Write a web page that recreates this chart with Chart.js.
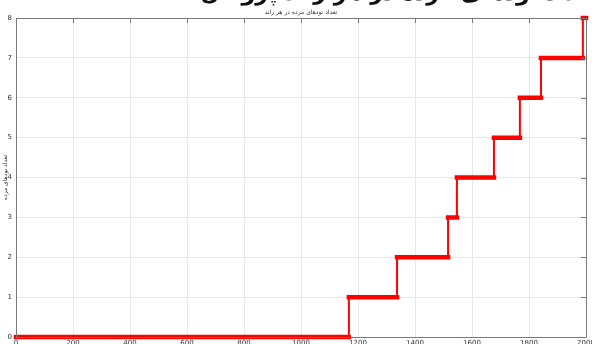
<!DOCTYPE html>
<html>
<head>
<meta charset="utf-8">
<script src="https://cdn.jsdelivr.net/npm/chart.js@4/dist/chart.umd.min.js"></script>
<style>
    html, body { margin: 0; padding: 0; background: #fff; }
    canvas { display: block; }
</style>
</head>
<body>
<canvas id="deadNodes" width="592" height="344"></canvas>
<script>
(function () {
    'use strict';

    // ── Data ─────────────────────────────────────────────────────
    const deathRounds = [1168, 1337, 1516, 1547, 1677, 1768, 1842, 1989];
    const deadCounts  = [1, 2, 3, 4, 5, 6, 7, 8];
    const lastRound   = 2000;
    const xTicks      = [0, 200, 400, 600, 800, 1000, 1200, 1400, 1600, 1800, 2000];
    const yTicks      = [0, 1, 2, 3, 4, 5, 6, 7, 8];

    const TITLE   = 'تعداد نودهای مرده در هر راند';
    const Y_LABEL = 'تعداد نودهای مرده';
    const HEADING = 'تعداد نودهای مرده در هر راند پروتکل';

    const FONT = "'DejaVu Sans', sans-serif";
    const RED  = '#ff0000';
    const AXIS = '#7a7a7a';
    const GRID = '#e8e8e8';

    // thin stepped trace: (round, count) with the jump at each death round
    const stepPts = [{ x: 0, y: 0 }];
    deathRounds.forEach((r, i) => stepPts.push({ x: r, y: deadCounts[i] }));
    stepPts.push({ x: lastRound, y: deadCounts[deadCounts.length - 1] });

    // thick plateaus: one run per count level
    const levels = [0].concat(deadCounts);
    const starts = [0].concat(deathRounds);
    const plateauPts = [];
    levels.forEach((lv, i) => {
        const end = i + 1 < starts.length ? starts[i + 1] : lastRound;
        plateauPts.push({ x: starts[i], y: lv }, { x: end, y: lv }, { x: end, y: null });
    });

    // keep the plot box fixed, no extra room for edge labels
    function noEdgePad(s) {
        s.paddingLeft = 0; s.paddingRight = 0;
        s.paddingTop = 0;  s.paddingBottom = 0;
    }

    // ── Frame, title and axis label ──────────────────────────────
    const framePlugin = {
        id: 'frame',
        afterDraw(chart) {
            const { ctx, chartArea: a, scales } = chart;
            ctx.save();
            ctx.strokeStyle = AXIS;
            ctx.lineWidth = 1;
            ctx.strokeRect(a.left + 0.5, a.top + 0.5, a.right - a.left, a.bottom - a.top);

            // inward ticks on the right and top edges
            ctx.beginPath();
            yTicks.forEach(v => {
                const y = Math.round(scales.y.getPixelForValue(v)) + 0.5;
                ctx.moveTo(a.right - 5, y); ctx.lineTo(a.right, y);
            });
            xTicks.forEach(v => {
                const x = Math.round(scales.x.getPixelForValue(v)) + 0.5;
                ctx.moveTo(x, a.top); ctx.lineTo(x, a.top + 5);
            });
            ctx.stroke();

            ctx.fillStyle = '#333';
            ctx.font = '6px ' + FONT;
            ctx.textAlign = 'center';
            ctx.textBaseline = 'bottom';
            ctx.fillText(TITLE, (a.left + a.right) / 2, a.top - 3);

            ctx.translate(5, (a.top + a.bottom) / 2);
            ctx.rotate(-Math.PI / 2);
            ctx.textBaseline = 'middle';
            ctx.fillText(Y_LABEL, 0, 0);
            ctx.restore();

            // caption line of the surrounding page, cut off at the top
            ctx.save();
            ctx.fillStyle = '#111';
            ctx.font = 'bold 22px ' + FONT;
            ctx.textAlign = 'right';
            ctx.textBaseline = 'alphabetic';
            ctx.fillText(HEADING, 598, 0);
            ctx.restore();
        }
    };

    new Chart(document.getElementById('deadNodes'), {
        type: 'line',
        data: {
            datasets: [
                {
                    label: 'plateau',
                    data: plateauPts,
                    borderColor: RED,
                    borderWidth: 4.5,
                    borderCapStyle: 'square',
                    pointRadius: 0,
                    spanGaps: false,
                    clip: false
                },
                {
                    label: 'step',
                    data: stepPts,
                    stepped: 'before',
                    borderColor: RED,
                    borderWidth: 2,
                    pointRadius: 0,
                    clip: false
                }
            ]
        },
        options: {
            responsive: false,
            animation: false,
            layout: { padding: { top: 18, right: 6, left: 0, bottom: 0 } },
            plugins: {
                legend: { display: false },
                tooltip: { enabled: false }
            },
            scales: {
                x: {
                    type: 'linear',
                    min: 0,
                    max: lastRound,
                    afterBuildTicks: s => { s.ticks = xTicks.map(v => ({ value: v })); },
                    afterFit: s => { s.height = 7; noEdgePad(s); },
                    grid: { color: GRID, drawTicks: false },
                    border: { color: AXIS },
                    ticks: {
                        color: '#333', padding: 2, maxRotation: 0,
                        font: { family: FONT, size: 7 },
                        callback: v => String(v)
                    }
                },
                y: {
                    type: 'linear',
                    min: 0,
                    max: 8,
                    afterBuildTicks: s => { s.ticks = yTicks.map(v => ({ value: v })); },
                    afterFit: s => { s.width = 16; noEdgePad(s); },
                    grid: { color: GRID, drawTicks: false },
                    border: { color: AXIS },
                    ticks: { color: '#333', padding: 4, font: { family: FONT, size: 7 } }
                }
            }
        },
        plugins: [framePlugin]
    });
})();
</script>
</body>
</html>
